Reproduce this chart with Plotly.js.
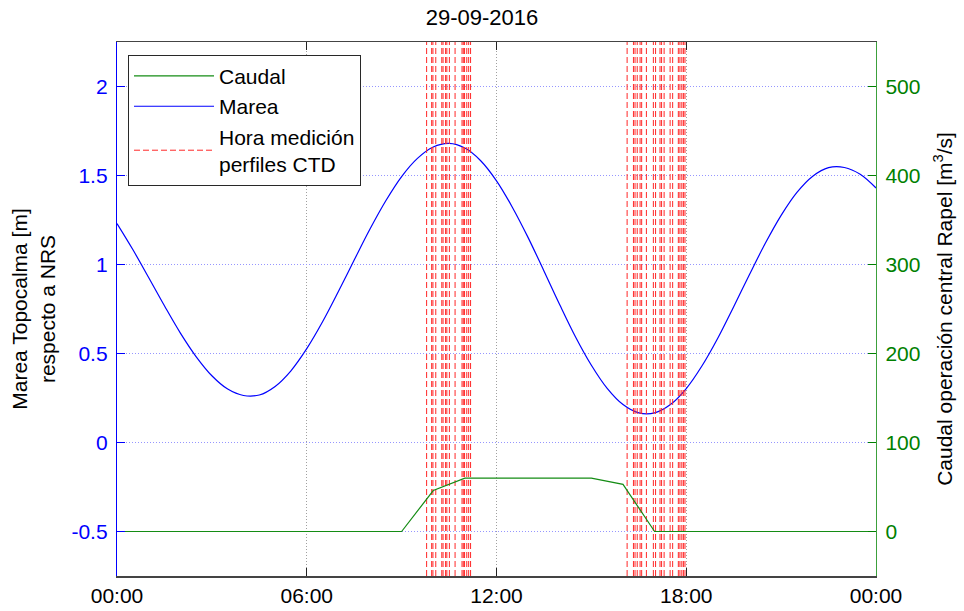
<!DOCTYPE html>
<html>
<head>
<meta charset="utf-8">
<script src="https://cdn.plot.ly/plotly-3.0.1.min.js"></script>
<style>html,body{margin:0;padding:0;background:#fff}#chart{width:964px;height:611px}</style>
</head>
<body>
<div id="chart"></div>
<script>
// Tide (Marea) in metres relative to NRS, time in hours of 29-09-2016 (every 30 min)
const mareaHours = [0,0.5,1,1.5,2,2.5,3,3.5,4,4.5,5,5.5,6,6.5,7,7.5,8,8.5,9,9.5,10,10.5,11,11.5,12,
                    12.5,13,13.5,14,14.5,15,15.5,16,16.5,17,17.5,18,18.5,19,19.5,20,20.5,21,21.5,22,22.5,23,23.5,24];
const mareaValues = [1.23,1.084,0.927,0.768,0.616,0.483,0.375,0.300,0.264,0.267,0.315,0.403,0.527,0.678,0.848,1.025,
                     1.199,1.358,1.494,1.596,1.660,1.680,1.654,1.583,1.470,1.322,1.151,0.964,0.774,0.593,0.434,0.304,
                     0.213,0.166,0.166,0.213,0.303,0.431,0.587,0.763,0.944,1.119,1.276,1.405,1.496,1.544,1.545,1.507,1.43];

// Caudal (discharge) m3/s
const caudalHours = [0,9,10,11,15,16,17,24];
const caudalValues = [0,0,46,60,60,53,0,0];

// CTD profile measurement times (hours)
const ctdHours = [9.79,9.95,9.99,10.08,10.27,10.31,10.39,10.43,10.51,10.69,10.91,10.95,10.99,11.06,11.12,11.18,
                  16.13,16.33,16.38,16.45,16.54,16.59,16.74,16.96,17.03,17.17,17.22,17.30,17.49,17.57,17.75,17.80,17.86,17.91,17.96];

const xTickVals = [0,6,12,18,24];
const xTickText = ['00:00','06:00','12:00','18:00','00:00'];
const yTickVals = [-0.5,0,0.5,1,1.5,2];
const yTickText = ['-0.5','0','0.5','1','1.5','2'];
const y2TickVals = [0,100,200,300,400,500];

const yRange = [-0.75,2.25];
const y2Range = [-50,550];

const ctdX = [], ctdY = [];
ctdHours.forEach(t => { ctdX.push(t,t,null); ctdY.push(yRange[0],yRange[1],null); });

const FONT = 'Liberation Sans, Arial, Helvetica, sans-serif';
const FS = 21;
const BLUE = 'rgb(0,0,255)';
const GREEN = 'rgb(0,128,0)';

const traces = [
  {x: caudalHours, y: caudalValues, yaxis: 'y2', type: 'scatter', mode: 'lines', name: 'Caudal',
   line: {color: 'rgb(20,140,20)', width: 1.2}},
  {x: mareaHours, y: mareaValues, type: 'scatter', mode: 'lines', name: 'Marea',
   line: {color: BLUE, width: 1.2, shape: 'spline', smoothing: 1}},
  {x: ctdX, y: ctdY, type: 'scatter', mode: 'lines', name: 'Hora medición<br>perfiles CTD',
   line: {color: 'rgb(255,40,40)', width: 1, dash: '6px,3px'}, connectgaps: false}
];

const layout = {
  width: 964, height: 611,
  margin: {l: 117, r: 88, t: 42, b: 35},
  paper_bgcolor: '#fff', plot_bgcolor: '#fff',
  font: {family: FONT, size: FS, color: '#000'},
  title: {text: '29-09-2016', x: 0.5, xanchor: 'center', y: 0.985, yanchor: 'top', yref: 'container',
          font: {family: FONT, size: 22, color: '#000'}},
  showlegend: true,
  legend: {x: 0.0145, y: 0.976, xanchor: 'left', yanchor: 'top', bgcolor: '#fff',
           bordercolor: 'rgb(40,40,40)', borderwidth: 1, font: {family: FONT, size: 21, color: '#000'},
           traceorder: 'normal', tracegroupgap: 0, itemwidth: 80},
  xaxis: {range: [0,24], tickvals: xTickVals, ticktext: xTickText, ticks: 'inside', ticklen: 8,
          tickcolor: '#222', showline: true, linecolor: '#444', linewidth: 1.5, mirror: 'ticks',
          showgrid: true, gridcolor: 'rgb(160,160,160)', griddash: '1px,2px', gridwidth: 1,
          zeroline: false, tickfont: {family: FONT, size: FS, color: '#000'}},
  yaxis: {range: yRange, tickvals: yTickVals, ticktext: yTickText, ticks: 'inside', ticklen: 8,
          tickcolor: BLUE, showline: true, linecolor: BLUE, linewidth: 1.2,
          showgrid: true, gridcolor: 'rgb(150,150,255)', griddash: '1px,2px', gridwidth: 1, zeroline: false,
          tickfont: {family: FONT, size: FS, color: BLUE}, ticklabelstandoff: 4,
          title: {text: 'Marea Topocalma [m]<br>respecto a NRS', font: {family: FONT, size: FS, color: '#000'}, standoff: 10}},
  yaxis2: {range: y2Range, tickvals: y2TickVals, overlaying: 'y', side: 'right', ticks: 'inside', ticklen: 8,
           tickcolor: GREEN, showline: true, linecolor: 'rgb(60,160,60)', linewidth: 1.2, showgrid: false, zeroline: false,
           tickfont: {family: FONT, size: FS, color: GREEN}, ticklabelstandoff: 4,
           title: {text: 'Caudal operación central Rapel [m<sup>3</sup>/s]', font: {family: FONT, size: FS, color: '#000'}, standoff: 17}}
};

Plotly.newPlot('chart', traces, layout, {displayModeBar: false, staticPlot: true});
</script>
</body>
</html>
